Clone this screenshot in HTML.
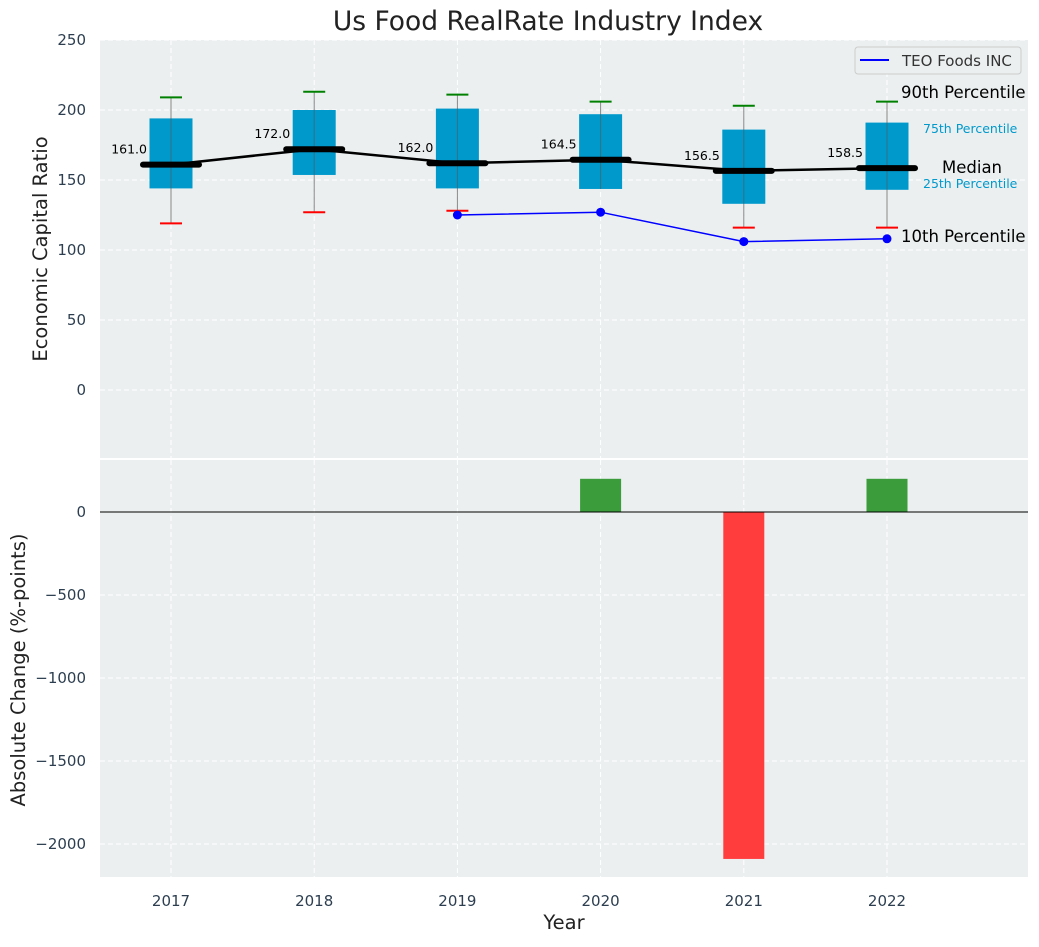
<!DOCTYPE html>
<html><head><meta charset="utf-8"><style>
body{margin:0;background:#fff;font-family:"Liberation Sans","DejaVu Sans",sans-serif}
svg text{font-family:"DejaVu Sans","Liberation Sans",sans-serif}
</style></head><body>
<svg id="c" width="1039" height="942" xmlns="http://www.w3.org/2000/svg"></svg>
<script>
const years=[2017,2018,2019,2020,2021,2022];
const p10=[119,127,128,null,116,116];
const p25=[144,153.6,144,143.6,133,143];
const med=[161.0,172.0,162.0,164.5,156.5,158.5];
const p75=[194,200,201,197,186,191];
const p90=[209,213,211,206,203,206];
const teoYears=[2019,2020,2021,2022];
const teo=[125,127,106,108];
const chg=[null,null,null,200,-2090,200];
const yTicksTop=[0,50,100,150,200,250];
const yTicksBot=[-2000,-1500,-1000,-500,0];

const svg=document.getElementById('c');const NS='http://www.w3.org/2000/svg';
function el(t,a,p){const e=document.createElementNS(NS,t);for(const k in a)e.setAttribute(k,a[k]);(p||svg).appendChild(e);return e;}
const X=y=>171+(y-2017)*143.2;
const YT=v=>390-v*1.4;
const YB=v=>512-v*0.166;
let t=el('text',{x:548,y:30,'text-anchor':'middle','font-size':26.5,fill:'#222'});t.textContent='Us Food RealRate Industry Index';

let pt=el('rect',{x:100,y:40,width:928,height:418,fill:'#ebeff0'});

let pb=el('rect',{x:100,y:460,width:928,height:417,fill:'#ebeff0'});

yTicksTop.forEach(v=>{el('line',{x1:100,x2:1028,y1:YT(v),y2:YT(v),stroke:'#fff','stroke-dasharray':'5,3'});
 let l=el('text',{x:86,y:YT(v)+5,'text-anchor':'end','font-size':15,fill:'#2c3e50'});l.textContent=v;
 });
yTicksBot.forEach(v=>{el('line',{x1:100,x2:1028,y1:YB(v),y2:YB(v),stroke:'#fff','stroke-dasharray':'5,3'});
 let l=el('text',{x:86,y:YB(v)+5,'text-anchor':'end','font-size':15,fill:'#2c3e50'});l.textContent=v<0?'\u2212'+(-v):v;
 });
years.forEach(y=>{el('line',{x1:X(y),x2:X(y),y1:40,y2:458,stroke:'#fff','stroke-dasharray':'5,3'});
 el('line',{x1:X(y),x2:X(y),y1:460,y2:877,stroke:'#fff','stroke-dasharray':'5,3'});
 let l=el('text',{x:X(y),y:906,'text-anchor':'middle','font-size':15,fill:'#2c3e50'});l.textContent=y;
 });
t=el('text',{x:47,y:249,'text-anchor':'middle','font-size':19.5,fill:'#222',transform:'rotate(-90 47 249)'});t.textContent='Economic Capital Ratio';

t=el('text',{x:25,y:670,'text-anchor':'middle','font-size':19.5,fill:'#222',transform:'rotate(-90 25 670)'});t.textContent='Absolute Change (%-points)';

t=el('text',{x:564,y:929,'text-anchor':'middle','font-size':19.5,fill:'#222'});t.textContent='Year';

years.forEach((y,i)=>{const x=X(y);
 const lo=p10[i]!=null?p10[i]:p25[i];
 el('line',{x1:x,x2:x,y1:YT(p90[i]),y2:YT(lo),stroke:'#888','stroke-width':1});
 let b=el('rect',{x:x-21.5,y:YT(p75[i]),width:43,height:YT(p25[i])-YT(p75[i]),fill:'#0099cc'});
 
 el('line',{x1:x,x2:x,y1:YT(p75[i]),y2:YT(p25[i]),stroke:'#555','stroke-width':1,opacity:0.6});
 el('line',{x1:x-11,x2:x+11,y1:YT(p90[i]),y2:YT(p90[i]),stroke:'green','stroke-width':2});
 if(p10[i]!=null)el('line',{x1:x-11,x2:x+11,y1:YT(p10[i]),y2:YT(p10[i]),stroke:'red','stroke-width':2});
});
let pts=years.map((y,i)=>X(y)+','+YT(med[i])).join(' ');
let ml=el('polyline',{points:pts,fill:'none',stroke:'#000','stroke-width':2.5});

years.forEach((y,i)=>{const x=X(y);
 el('line',{x1:x-28,x2:x+28,y1:YT(med[i]),y2:YT(med[i]),stroke:'#000','stroke-width':6,'stroke-linecap':'round'});
 let l=el('text',{x:x-24,y:YT(med[i])-11,'text-anchor':'end','font-size':12.5,fill:'#000'});l.textContent=med[i].toFixed(1);
 });
let tl=el('polyline',{points:teoYears.map((y,i)=>X(y)+','+YT(teo[i])).join(' '),fill:'none',stroke:'blue','stroke-width':1.5});

teoYears.forEach((y,i)=>{let c=el('circle',{cx:X(y),cy:YT(teo[i]),r:4.5,fill:'blue'});
 });
[['90th Percentile',901,98,16.5,'#000'],['75th Percentile',923,133,12.5,'#0099cc'],['Median',942,173,16.5,'#000'],['25th Percentile',923,188,12.5,'#0099cc'],['10th Percentile',901,242,16.5,'#000']].forEach(a=>{
 let l=el('text',{x:a[1],y:a[2],'font-size':a[3],fill:a[4]});l.textContent=a[0];
 });
let lg=el('g',{});
el('rect',{x:855,y:47,width:166,height:27,rx:3,fill:'#ebeff0',stroke:'#ccc'},lg);
el('line',{x1:860,x2:889,y1:60,y2:60,stroke:'blue','stroke-width':2},lg);
t=el('text',{x:902,y:66,'font-size':15,fill:'#333'},lg);t.textContent='TEO Foods INC';
years.forEach((y,i)=>{if(chg[i]==null)return;const v=chg[i];
 let r=el('rect',{x:X(y)-20.5,y:Math.min(YB(0),YB(v)),width:41,height:Math.abs(YB(v)-YB(0)),fill:v>=0?'#3a9c3a':'#ff3d3d'});
 });
el('line',{x1:100,x2:1028,y1:YB(0),y2:YB(0),stroke:'#000','stroke-width':1});
</script>
</body></html>
